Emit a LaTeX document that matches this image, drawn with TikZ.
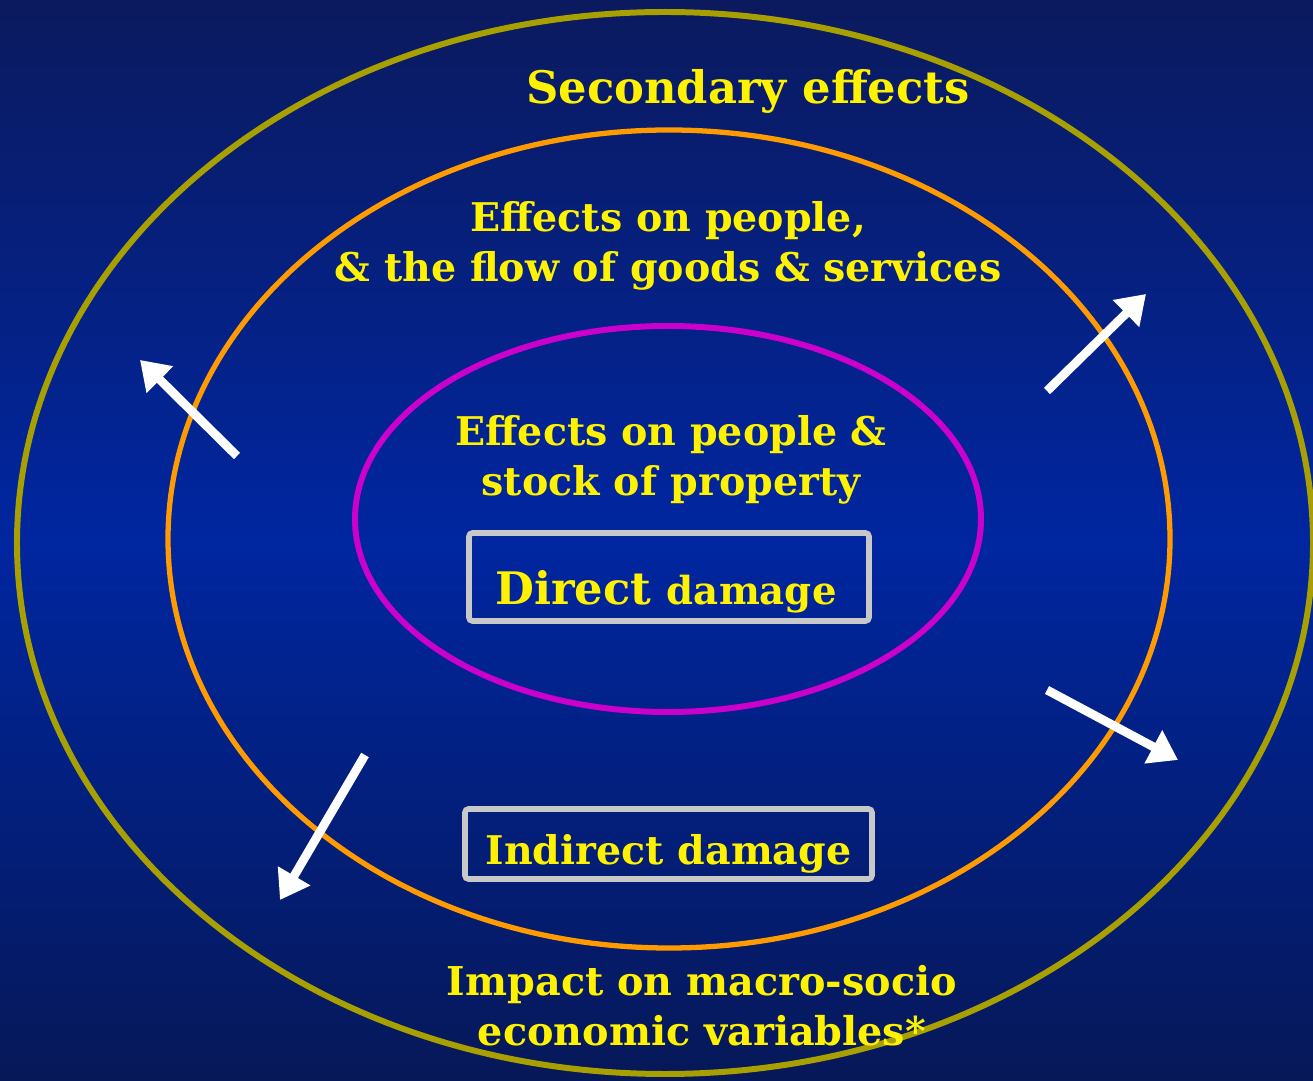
\documentclass[tikz,border=0pt]{standalone}
\usepackage{fontspec}
\setmainfont{DejaVu Serif}
\usepackage{tikz}
\usetikzlibrary{positioning}
\usetikzlibrary{arrows.meta}
\definecolor{navytop}{HTML}{0B1A5E}
\definecolor{navymid}{HTML}{0026A0}
\definecolor{navybot}{HTML}{061858}
\definecolor{olivering}{HTML}{A8A000}
\definecolor{orangering}{HTML}{FF9A00}
\definecolor{magentaring}{HTML}{CC00CC}
\definecolor{boxgray}{HTML}{C8C8C8}

\begin{document}
\begin{tikzpicture}[
    lbl/.style={text=yellow, align=center, font=\bfseries\fontsize{22.5}{28.5}\selectfont},
    dmgbox/.style={draw=boxgray, line width=3.2pt, rounded corners=2pt, inner sep=0pt},
    outarrow/.style={white, line width=5pt, -{Triangle[width=0.72cm,length=0.56cm]}}
  ]
          \useasboundingbox (0,0) rectangle (26.26,21.62);
          \shade[top color=navytop, bottom color=navybot, middle color=navymid] (0,0) rectangle (26.26,21.62);
          % rings
          \draw[olivering, line width=3.4pt] (13.30,10.76) ellipse [x radius=12.96, y radius=10.62];
          \draw[orangering, line width=3pt] (13.38,10.84) ellipse [x radius=10.02, y radius=8.18];
          \draw[magentaring, line width=3.4pt] (13.36,11.24) ellipse [x radius=6.26, y radius=3.86];
          % labels
          \node[lbl, font=\bfseries\fontsize{25.5}{28}\selectfont] (secondary) at (14.96,19.80) {Secondary effects};
          \node[lbl] (flow) at (13.36,16.70) {Effects on people,\\\& the flow of goods \& services};
          \node[lbl] (stock) at (13.42,12.42) {Effects on people \&\\stock of property};
          \node[lbl, font=\bfseries\fontsize{22.6}{28.5}\selectfont] (macro) at (14.04,1.50) {Impact on macro-socio\\ economic variables*};
          \node[dmgbox, minimum width=8.0cm, minimum height=1.76cm] (direct) at (13.38,10.08) {};
          \node[lbl, font=\bfseries, anchor=base] (directtxt) at (13.32,9.52) {\fontsize{25.5}{30}\selectfont Direct \fontsize{22}{25}\selectfont damage};
          \node[dmgbox, minimum width=8.14cm, minimum height=1.40cm] (indirect) at (13.37,4.74) {};
          \node[lbl, anchor=base] (indirecttxt) at (13.37,4.32) {Indirect damage};
          % arrows
          \coordinate (a1s) at (4.74,12.50);  \coordinate (a1e) at (2.80,14.42);
          \coordinate (a2s) at (20.94,13.80); \coordinate (a2e) at (22.92,15.74);
          \coordinate (a3s) at (20.94,7.82);  \coordinate (a3e) at (23.56,6.42);
          \coordinate (a4s) at (7.30,6.52);   \coordinate (a4e) at (5.60,3.62);
          \draw[outarrow] (a1s) -- (a1e);
          \draw[outarrow] (a2s) -- (a2e);
          \draw[outarrow] (a3s) -- (a3e);
          \draw[outarrow] (a4s) -- (a4e);
        \end{tikzpicture}
\end{document}
